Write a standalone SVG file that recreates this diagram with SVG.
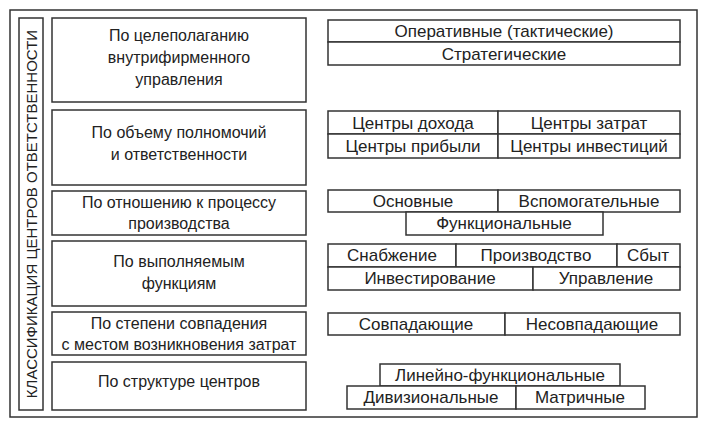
<svg xmlns="http://www.w3.org/2000/svg" width="702" height="426" viewBox="0 0 702 426">
<style>
rect{fill:#fff;stroke:#333;stroke-width:1.5}
text{font-family:"Liberation Sans",Arial,sans-serif;font-size:16px;fill:#222;text-anchor:middle}
.r text{font-size:17px}
</style>
<rect x="0" y="0" width="702" height="426" style="stroke:none"/>
<g id="frame"><rect x="10" y="10" width="687" height="407"/></g>
<g id="title"><rect x="19" y="18" width="24" height="392"/>
<text transform="translate(37,214) rotate(-90)" style="font-size:15px">КЛАССИФИКАЦИЯ ЦЕНТРОВ ОТВЕТСТВЕННОСТИ</text></g>
<g id="c1"><rect x="52" y="18" width="254" height="84"/><text x="179" y="41">По целеполаганию</text><text x="179" y="63">внутрифирменного</text><text x="179" y="85">управления</text></g>
<g id="c2"><rect x="52" y="110" width="254" height="75"/><text x="179" y="138">По объему полномочий</text><text x="179" y="160">и ответственности</text></g>
<g id="c3"><rect x="52" y="191" width="254" height="44"/><text x="179" y="208">По отношению к процессу</text><text x="179" y="229">производства</text></g>
<g id="c4"><rect x="52" y="241" width="254" height="65"/><text x="179" y="267">По выполняемым</text><text x="179" y="289">функциям</text></g>
<g id="c5"><rect x="52" y="312" width="254" height="43"/><text x="179" y="329">По степени совпадения</text><text x="179" y="350">с местом возникновения затрат</text></g>
<g id="c6"><rect x="52" y="362" width="254" height="48"/><text x="179" y="387">По структуре центров</text></g>
<g class="r">
<g id="r1"><rect x="328" y="20" width="352" height="22"/><text x="504" y="37">Оперативные (тактические)</text>
<rect x="328" y="42" width="352" height="23"/><text x="504" y="60">Стратегические</text></g>
<g id="r2"><rect x="328" y="111" width="170" height="23"/><text x="413" y="129">Центры дохода</text>
<rect x="498" y="111" width="182" height="23"/><text x="589" y="129">Центры затрат</text>
<rect x="328" y="134" width="170" height="24"/><text x="413" y="152">Центры прибыли</text>
<rect x="498" y="134" width="182" height="24"/><text x="589" y="152">Центры инвестиций</text></g>
<g id="r3"><rect x="328" y="190" width="170" height="22"/><text x="413" y="207">Основные</text>
<rect x="498" y="190" width="182" height="22"/><text x="589" y="207">Вспомогательные</text>
<rect x="406" y="212" width="197" height="23"/><text x="504" y="229">Функциональные</text></g>
<g id="r4"><rect x="328" y="244" width="128" height="23"/><text x="392" y="261">Снабжение</text>
<rect x="456" y="244" width="161" height="23"/><text x="536" y="261">Производство</text>
<rect x="617" y="244" width="63" height="23"/><text x="648" y="261">Сбыт</text>
<rect x="328" y="267" width="205" height="23"/><text x="430" y="284">Инвестирование</text>
<rect x="533" y="267" width="147" height="23"/><text x="606" y="284">Управление</text></g>
<g id="r5"><rect x="328" y="313" width="177" height="22"/><text x="416" y="330">Совпадающие</text>
<rect x="505" y="313" width="175" height="22"/><text x="592" y="330">Несовпадающие</text></g>
<g id="r6"><rect x="380" y="364" width="240" height="22"/><text x="500" y="381">Линейно-функциональные</text>
<rect x="347" y="386" width="169" height="23"/><text x="431" y="403">Дивизиональные</text>
<rect x="516" y="386" width="129" height="23"/><text x="580" y="403">Матричные</text></g>
</g>
<g id="connectors"/>
</svg>
